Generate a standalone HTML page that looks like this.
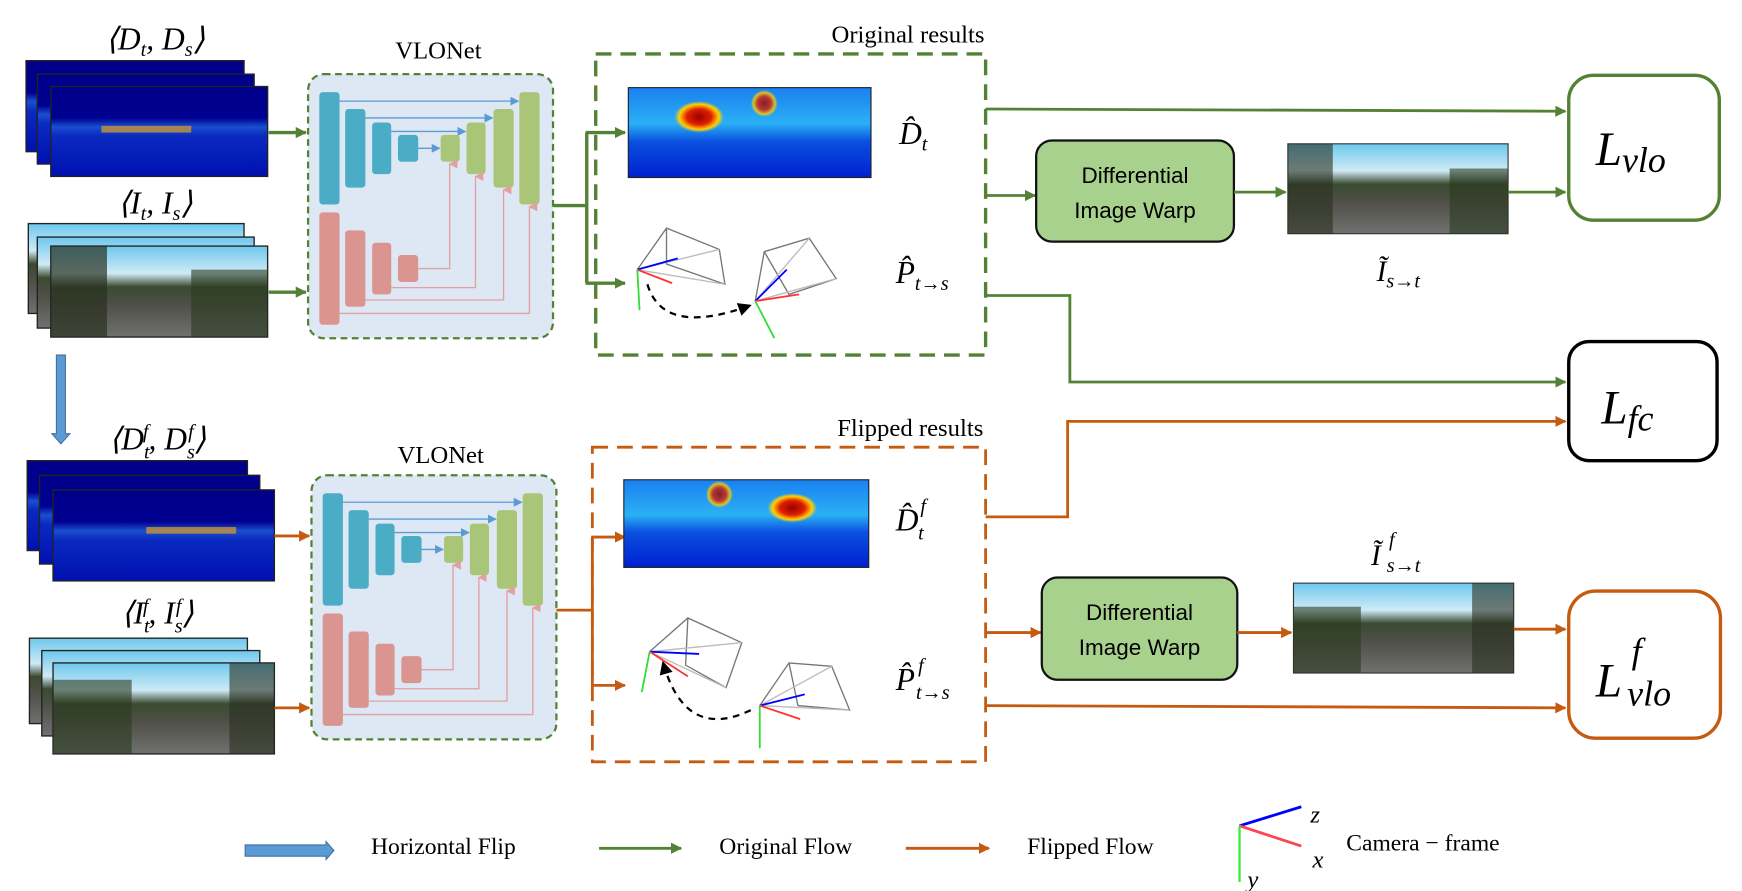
<!DOCTYPE html>
<html><head><meta charset="utf-8"><style>
html,body{margin:0;padding:0;background:#fff;}
svg{display:block;}
.ser{font-family:"Liberation Serif",serif;}
.it{font-family:"Liberation Serif",serif;font-style:italic;}
.sans{font-family:"Liberation Sans",sans-serif;}
</style></head><body>
<svg width="1742" height="891" viewBox="0 0 1550 793" xmlns="http://www.w3.org/2000/svg">
<defs>
<marker id="ag" markerWidth="10" markerHeight="10" refX="9" refY="5" orient="auto" markerUnits="userSpaceOnUse"><path d="M0,0 L10,5 L0,10 z" fill="#548235"/></marker>
<marker id="ao" markerWidth="10" markerHeight="10" refX="9" refY="5" orient="auto" markerUnits="userSpaceOnUse"><path d="M0,0 L10,5 L0,10 z" fill="#c55a11"/></marker>
<marker id="ab" markerWidth="8" markerHeight="8" refX="7" refY="4" orient="auto" markerUnits="userSpaceOnUse"><path d="M0,0 L8,4 L0,8 z" fill="#5b9bd5"/></marker>
<marker id="ar" markerWidth="8" markerHeight="8" refX="4" refY="1" orient="auto" markerUnits="userSpaceOnUse"><path d="M0,8 L4,0 L8,8 z" fill="#e3a0a0"/></marker>
<marker id="ak" markerWidth="12" markerHeight="12" refX="10" refY="6" orient="auto" markerUnits="userSpaceOnUse"><path d="M0,0 L12,6 L0,12 z" fill="#000"/></marker>
<linearGradient id="ld" x1="0" y1="0" x2="0" y2="1"><stop offset="0" stop-color="#00008a"/><stop offset="0.35" stop-color="#000090"/><stop offset="0.45" stop-color="#1a4fd0"/><stop offset="0.55" stop-color="#0a2ac0"/><stop offset="1" stop-color="#0010b0"/></linearGradient>
<linearGradient id="pd" x1="0" y1="0" x2="0" y2="1"><stop offset="0" stop-color="#1a80f0"/><stop offset="0.4" stop-color="#2ab0f5"/><stop offset="0.6" stop-color="#0a50e0"/><stop offset="1" stop-color="#0020d0"/></linearGradient>
<linearGradient id="rgb" x1="0" y1="0" x2="0" y2="1"><stop offset="0" stop-color="#6ec8ee"/><stop offset="0.3" stop-color="#cfeaf5"/><stop offset="0.45" stop-color="#3a4a30"/><stop offset="0.65" stop-color="#505048"/><stop offset="1" stop-color="#707070"/></linearGradient>
<radialGradient id="hot"><stop offset="0" stop-color="#900"/><stop offset="0.5" stop-color="#e02000"/><stop offset="0.8" stop-color="#ffd000"/><stop offset="1" stop-color="#ffd000" stop-opacity="0"/></radialGradient>
</defs>

<text x="138" y="44" class="it" font-size="28" text-anchor="middle">⟨D<tspan font-size="18" dy="6">t</tspan><tspan dy="-6">, D</tspan><tspan font-size="18" dy="6">s</tspan><tspan dy="-6">⟩</tspan></text>
<g stroke="#222" stroke-width="1.2">
<rect x="23" y="54" width="194" height="81" fill="url(#ld)"/>
<rect x="33" y="66" width="193" height="80" fill="url(#ld)"/>
<rect x="45" y="77" width="193" height="80" fill="url(#ld)"/>
</g>
<rect x="90" y="112" width="80" height="6" fill="#e0a020" opacity="0.7"/>
<text x="138" y="190" class="it" font-size="28" text-anchor="middle">⟨I<tspan font-size="18" dy="6">t</tspan><tspan dy="-6">, I</tspan><tspan font-size="18" dy="6">s</tspan><tspan dy="-6">⟩</tspan></text>
<g stroke="#222" stroke-width="1.2">
<rect x="25" y="199" width="192" height="80" fill="url(#rgb)"/>
<rect x="33" y="211" width="193" height="81" fill="url(#rgb)"/>
<rect x="45" y="219" width="193" height="81" fill="url(#rgb)"/>
</g>
<rect x="45" y="219" width="50" height="81" fill="#2a3020" opacity="0.7"/>
<rect x="170" y="240" width="68" height="60" fill="#2a3a20" opacity="0.6"/>

<line x1="239" y1="118" x2="272" y2="118" stroke="#548235" stroke-width="3" marker-end="url(#ag)"/>
<line x1="239" y1="260" x2="272" y2="260" stroke="#548235" stroke-width="3" marker-end="url(#ag)"/>

<text x="390" y="52" class="ser" font-size="22" text-anchor="middle">VLONet</text>
<g id="net">
<rect x="274" y="66" width="218" height="235" rx="14" fill="#dee8f4" stroke="#548235" stroke-width="2" stroke-dasharray="6,4"/>
<g fill="#4bacc6">
<rect x="284" y="82" width="18" height="100" rx="3"/>
<rect x="307" y="97" width="18" height="70" rx="3"/>
<rect x="331" y="109" width="17" height="46" rx="3"/>
<rect x="354" y="120" width="18" height="24" rx="3"/>
</g>
<g fill="#a9c678">
<rect x="392" y="120" width="17" height="24" rx="3"/>
<rect x="415" y="109" width="17" height="46" rx="3"/>
<rect x="439" y="97" width="18" height="70" rx="3"/>
<rect x="462" y="82" width="18" height="100" rx="3"/>
</g>
<g fill="#da9590">
<rect x="284" y="189" width="18" height="100" rx="3"/>
<rect x="307" y="205" width="18" height="68" rx="3"/>
<rect x="331" y="216" width="17" height="46" rx="3"/>
<rect x="354" y="227" width="18" height="24" rx="3"/>
</g>
<g stroke="#5b9bd5" stroke-width="1.2" fill="none">
<line x1="302" y1="90" x2="461" y2="90" marker-end="url(#ab)"/>
<line x1="325" y1="105" x2="438" y2="105" marker-end="url(#ab)"/>
<line x1="348" y1="117" x2="414" y2="117" marker-end="url(#ab)"/>
<line x1="372" y1="132" x2="391" y2="132" marker-end="url(#ab)"/>
</g>
<g stroke="#e3a0a0" stroke-width="1.2" fill="none">
<polyline points="372,239 400,239 400,146" marker-end="url(#ar)"/>
<polyline points="348,256 423,256 423,157" marker-end="url(#ar)"/>
<polyline points="325,267 448,267 448,169" marker-end="url(#ar)"/>
<polyline points="302,279 471,279 471,184" marker-end="url(#ar)"/>
</g>
</g>

<polyline points="492,183 522,183" stroke="#548235" stroke-width="3" fill="none"/>
<line x1="522" y1="118" x2="522" y2="252" stroke="#548235" stroke-width="3"/>
<line x1="521" y1="118" x2="556" y2="118" stroke="#548235" stroke-width="3" marker-end="url(#ag)"/>
<line x1="521" y1="252" x2="556" y2="252" stroke="#548235" stroke-width="3" marker-end="url(#ag)"/>

<text x="876" y="38" class="ser" font-size="22" text-anchor="end">Original results</text>
<rect x="530" y="48" width="347" height="268" fill="none" stroke="#548235" stroke-width="3" stroke-dasharray="14,8"/>
<rect x="559" y="78" width="216" height="80" fill="url(#pd)" stroke="#222"/>
<ellipse cx="622" cy="104" rx="22" ry="14" fill="url(#hot)"/>
<ellipse cx="680" cy="92" rx="12" ry="12" fill="url(#hot)" opacity="0.8"/>
<text x="800" y="128" class="it" font-size="28">D̂<tspan font-size="18" dy="6">t</tspan></text>

<g stroke-width="1.2" fill="none">
<polyline points="567,240 593,203 640,222 645,253 593,235 593,203" stroke="#777"/>
<line x1="567" y1="240" x2="645" y2="253" stroke="#bbb"/><line x1="567" y1="240" x2="640" y2="222" stroke="#bbb"/>
<line x1="567" y1="240" x2="603" y2="230" stroke="#00f" stroke-width="1.6"/>
<line x1="567" y1="240" x2="598" y2="252" stroke="#f33" stroke-width="1.6"/>
<line x1="567" y1="240" x2="569" y2="276" stroke="#3d3" stroke-width="1.6"/>
<polyline points="672,268 680,224 720,212 744,248 702,262 680,224" stroke="#777"/>
<line x1="672" y1="268" x2="744" y2="248" stroke="#bbb"/><line x1="672" y1="268" x2="720" y2="212" stroke="#bbb"/>
<line x1="672" y1="268" x2="700" y2="240" stroke="#00f" stroke-width="1.6"/>
<line x1="672" y1="268" x2="711" y2="262" stroke="#f33" stroke-width="1.6"/>
<line x1="672" y1="268" x2="689" y2="301" stroke="#3d3" stroke-width="1.6"/>
<path d="M576,253 Q590,300 667,272" stroke="#000" stroke-width="2" stroke-dasharray="6,5" marker-end="url(#ak)"/>
</g>
<text x="797" y="252" class="it" font-size="28">P̂<tspan font-size="18" dy="6">t→s</tspan></text>

<line x1="877" y1="97" x2="1393" y2="99" stroke="#548235" stroke-width="2.5" marker-end="url(#ag)"/>
<line x1="877" y1="174" x2="921" y2="174" stroke="#548235" stroke-width="2.5" marker-end="url(#ag)"/>
<rect x="922" y="125" width="176" height="90" rx="14" fill="#a9d18e" stroke="#111" stroke-width="2"/>
<text x="1010" y="163" class="sans" font-size="20" text-anchor="middle">Differential</text>
<text x="1010" y="194" class="sans" font-size="20" text-anchor="middle">Image Warp</text>
<line x1="1098" y1="171" x2="1144" y2="171" stroke="#548235" stroke-width="2.5" marker-end="url(#ag)"/>
<rect x="1146" y="128" width="196" height="80" fill="url(#rgb)" stroke="#333"/>
<rect x="1146" y="128" width="40" height="80" fill="#2a3020" opacity="0.6"/>
<rect x="1290" y="150" width="52" height="58" fill="#2a3a20" opacity="0.6"/>
<line x1="1342" y1="171" x2="1393" y2="171" stroke="#548235" stroke-width="2.5" marker-end="url(#ag)"/>
<text x="1225" y="250" class="it" font-size="26">Ĩ<tspan font-size="18" dy="6">s→t</tspan></text>

<rect x="1396" y="67" width="134" height="129" rx="22" fill="#fff" stroke="#548235" stroke-width="3"/>
<text x="1420" y="147" class="it" font-size="42">L<tspan font-size="32" dy="6">vlo</tspan></text>

<polyline points="877,263 952,263 952,340 1393,340" stroke="#548235" stroke-width="2.5" fill="none" marker-end="url(#ag)"/>
<rect x="1396" y="304" width="132" height="106" rx="18" fill="#fff" stroke="#000" stroke-width="3"/>
<text x="1425" y="377" class="it" font-size="42">L<tspan font-size="32" dy="6">fc</tspan></text>
<polyline points="877,460 950,460 950,375 1393,375" stroke="#c55a11" stroke-width="2.5" fill="none" marker-end="url(#ao)"/>

<path d="M50,316 L58,316 L58,386 L62,386 L54,395 L46,386 L50,386 z" fill="#5b9bd5" stroke="#41719c" stroke-width="1"/>

<text x="140" y="400" class="it" font-size="28" text-anchor="middle">⟨D<tspan font-size="18" dy="8">t</tspan><tspan font-size="18" dx="-6" dy="-18">f</tspan><tspan dy="10">, D</tspan><tspan font-size="18" dy="8">s</tspan><tspan font-size="18" dx="-6" dy="-18">f</tspan><tspan dy="10">⟩</tspan></text>
<g stroke="#222" stroke-width="1.2">
<rect x="24" y="410" width="196" height="80" fill="url(#ld)"/>
<rect x="35" y="423" width="196" height="79" fill="url(#ld)"/>
<rect x="47" y="436" width="197" height="81" fill="url(#ld)"/>
</g>
<rect x="130" y="469" width="80" height="6" fill="#e0a020" opacity="0.7"/>
<text x="140" y="555" class="it" font-size="28" text-anchor="middle">⟨I<tspan font-size="18" dy="8">t</tspan><tspan font-size="18" dx="-6" dy="-18">f</tspan><tspan dy="10">, I</tspan><tspan font-size="18" dy="8">s</tspan><tspan font-size="18" dx="-6" dy="-18">f</tspan><tspan dy="10">⟩</tspan></text>
<g stroke="#222" stroke-width="1.2">
<rect x="26" y="568" width="194" height="76" fill="url(#rgb)"/>
<rect x="37" y="579" width="194" height="76" fill="url(#rgb)"/>
<rect x="47" y="590" width="197" height="81" fill="url(#rgb)"/>
</g>
<rect x="47" y="605" width="70" height="66" fill="#2a3a20" opacity="0.6"/>
<rect x="204" y="590" width="40" height="81" fill="#2a3020" opacity="0.6"/>

<line x1="244" y1="477" x2="275" y2="477" stroke="#c55a11" stroke-width="2.5" marker-end="url(#ao)"/>
<line x1="244" y1="630" x2="275" y2="630" stroke="#c55a11" stroke-width="2.5" marker-end="url(#ao)"/>

<text x="392" y="412" class="ser" font-size="22" text-anchor="middle">VLONet</text>
<use href="#net" transform="translate(3,357)"/>

<line x1="495" y1="543" x2="527" y2="543" stroke="#c55a11" stroke-width="2.5"/>
<line x1="527" y1="478" x2="527" y2="610" stroke="#c55a11" stroke-width="2.5"/>
<line x1="526" y1="478" x2="556" y2="478" stroke="#c55a11" stroke-width="2.5" marker-end="url(#ao)"/>
<line x1="526" y1="610" x2="556" y2="610" stroke="#c55a11" stroke-width="2.5" marker-end="url(#ao)"/>

<text x="875" y="388" class="ser" font-size="22" text-anchor="end">Flipped results</text>
<rect x="527" y="398" width="350" height="280" fill="none" stroke="#c55a11" stroke-width="2.5" stroke-dasharray="14,8"/>
<rect x="555" y="427" width="218" height="78" fill="url(#pd)" stroke="#222"/>
<ellipse cx="705" cy="452" rx="22" ry="13" fill="url(#hot)"/>
<ellipse cx="640" cy="440" rx="12" ry="12" fill="url(#hot)" opacity="0.8"/>
<text x="797" y="472" class="it" font-size="28">D̂</text>
<text x="817" y="480" class="it" font-size="18">t</text>
<text x="819" y="456" class="it" font-size="18">f</text>

<g stroke-width="1.2" fill="none">
<polyline points="578,580 612,550 660,572 646,612 610,592 612,550" stroke="#777"/>
<line x1="578" y1="580" x2="646" y2="612" stroke="#bbb"/><line x1="578" y1="580" x2="660" y2="572" stroke="#bbb"/>
<line x1="578" y1="580" x2="622" y2="582" stroke="#00f" stroke-width="1.6"/>
<line x1="578" y1="580" x2="612" y2="602" stroke="#f33" stroke-width="1.6"/>
<line x1="578" y1="580" x2="571" y2="616" stroke="#3d3" stroke-width="1.6"/>
<polyline points="676,628 702,590 740,593 756,632 710,628 702,590" stroke="#777"/>
<line x1="676" y1="628" x2="756" y2="632" stroke="#bbb"/><line x1="676" y1="628" x2="740" y2="593" stroke="#bbb"/>
<line x1="676" y1="628" x2="716" y2="618" stroke="#00f" stroke-width="1.6"/>
<line x1="676" y1="628" x2="712" y2="640" stroke="#f33" stroke-width="1.6"/>
<line x1="676" y1="628" x2="676" y2="666" stroke="#3d3" stroke-width="1.6"/>
<path d="M668,632 Q610,660 590,590" stroke="#000" stroke-width="2" stroke-dasharray="6,5" marker-end="url(#ak)"/>
</g>
<text x="797" y="614" class="it" font-size="28">P̂</text>
<text x="815" y="622" class="it" font-size="18">t→s</text>
<text x="817" y="598" class="it" font-size="18">f</text>

<line x1="877" y1="563" x2="926" y2="563" stroke="#c55a11" stroke-width="2.5" marker-end="url(#ao)"/>
<rect x="927" y="514" width="174" height="91" rx="14" fill="#a9d18e" stroke="#111" stroke-width="2"/>
<text x="1014" y="552" class="sans" font-size="20" text-anchor="middle">Differential</text>
<text x="1014" y="583" class="sans" font-size="20" text-anchor="middle">Image Warp</text>
<line x1="1101" y1="563" x2="1149" y2="563" stroke="#c55a11" stroke-width="2.5" marker-end="url(#ao)"/>
<rect x="1151" y="519" width="196" height="80" fill="url(#rgb)" stroke="#333"/>
<rect x="1151" y="540" width="60" height="59" fill="#2a3a20" opacity="0.6"/>
<rect x="1310" y="519" width="37" height="80" fill="#2a3020" opacity="0.6"/>
<line x1="1347" y1="560" x2="1393" y2="560" stroke="#c55a11" stroke-width="2.5" marker-end="url(#ao)"/>
<text x="1220" y="503" class="it" font-size="26">Ĩ</text>
<text x="1234" y="509" class="it" font-size="18">s→t</text>
<text x="1236" y="486" class="it" font-size="18">f</text>
<line x1="877" y1="628" x2="1393" y2="630" stroke="#c55a11" stroke-width="2.5" marker-end="url(#ao)"/>

<rect x="1396" y="526" width="135" height="131" rx="24" fill="#fff" stroke="#c55a11" stroke-width="3"/>
<text x="1420" y="620" class="it" font-size="42">L</text>
<text x="1448" y="628" class="it" font-size="32">vlo</text>
<text x="1452" y="590" class="it" font-size="32">f</text>

<path d="M218,752 L290,752 L290,749 L297,757 L290,765 L290,762 L218,762 z" fill="#5b9bd5" stroke="#41719c" stroke-width="1"/>
<text x="330" y="760" class="ser" font-size="21">Horizontal Flip</text>
<line x1="533" y1="755" x2="606" y2="755" stroke="#548235" stroke-width="2.5" marker-end="url(#ag)"/>
<text x="640" y="760" class="ser" font-size="21">Original Flow</text>
<line x1="806" y1="755" x2="880" y2="755" stroke="#c55a11" stroke-width="2.5" marker-end="url(#ao)"/>
<text x="914" y="760" class="ser" font-size="21">Flipped Flow</text>
<line x1="1103" y1="735" x2="1158" y2="718" stroke="#00f" stroke-width="2.5"/>
<line x1="1103" y1="735" x2="1158" y2="753" stroke="#f45" stroke-width="2.5"/>
<line x1="1103" y1="735" x2="1103" y2="785" stroke="#3e3" stroke-width="2"/>
<text x="1166" y="732" class="it" font-size="22">z</text>
<text x="1168" y="772" class="it" font-size="22">x</text>
<text x="1110" y="790" class="it" font-size="22">y</text>
<text x="1198" y="757" class="ser" font-size="21">Camera − frame</text>
</svg>
</body></html>
